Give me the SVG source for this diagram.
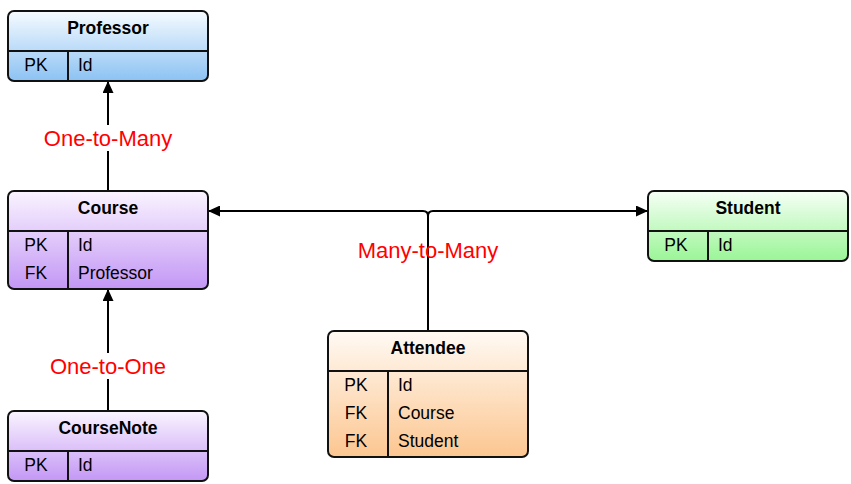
<svg xmlns="http://www.w3.org/2000/svg" width="851" height="484" viewBox="0 0 851 484">
<defs>
<linearGradient id="gBlue" x1="0" y1="0" x2="0" y2="1"><stop offset="0" stop-color="#f6fbff"/><stop offset="1" stop-color="#8cc2f3"/></linearGradient>
<linearGradient id="gPurple" x1="0" y1="0" x2="0" y2="1"><stop offset="0" stop-color="#faf4ff"/><stop offset="1" stop-color="#c397f5"/></linearGradient>
<linearGradient id="gOrange" x1="0" y1="0" x2="0" y2="1"><stop offset="0" stop-color="#fffaf4"/><stop offset="1" stop-color="#fcc690"/></linearGradient>
<linearGradient id="gGreen" x1="0" y1="0" x2="0" y2="1"><stop offset="0" stop-color="#f6fff6"/><stop offset="1" stop-color="#9af596"/></linearGradient>
<marker id="arr" viewBox="0 0 12 11" refX="12" refY="5.5" markerWidth="12" markerHeight="11" markerUnits="userSpaceOnUse" orient="auto"><path d="M0,0 L12,5.5 L0,11 Z" fill="#000"/></marker>
<style>
.box{stroke:#111;stroke-width:2}
.ln{stroke:#111;stroke-width:2;fill:none}
.hd{font-family:"Liberation Sans",Arial,sans-serif;font-weight:bold;font-size:17.5px;text-anchor:middle;fill:#000}
.tx{font-family:"Liberation Sans",Arial,sans-serif;font-size:17.5px;fill:#000}
.k{text-anchor:middle}
.lbl{font-family:"Liberation Sans",Arial,sans-serif;font-size:22px;fill:#ff0000;text-anchor:middle}
.cn{stroke:#000;stroke-width:2;fill:none}
</style>
</defs>
<g id="connectors">
<path class="cn" d="M108,191 L108,81" marker-end="url(#arr)"/>
<path class="cn" d="M108,411 L108,289" marker-end="url(#arr)"/>
<path class="cn" d="M428,331 L428,216 Q428,211 423,211 L208,211" marker-end="url(#arr)"/>
<path class="cn" d="M428,331 L428,216 Q428,211 433,211 L648,211" marker-end="url(#arr)"/>
<rect x="45" y="125" width="126" height="26" fill="#fff"/>
<text class="lbl" x="108" y="146">One-to-Many</text>
<rect x="50" y="353" width="116" height="26" fill="#fff"/>
<text class="lbl" x="108" y="374">One-to-One</text>
<text class="lbl" x="428" y="258">Many-to-Many</text>
</g>
<g id="professor">
<rect class="box" x="8" y="11" width="200" height="70" rx="6" fill="url(#gBlue)"/>
<path class="ln" d="M8,51 H208 M68,51 V81"/>
<text class="hd" x="108" y="34">Professor</text>
<text class="tx k" x="36" y="71">PK</text><text class="tx" x="78" y="71">Id</text>
</g>
<g id="course">
<rect class="box" x="8" y="191" width="200" height="98" rx="6" fill="url(#gPurple)"/>
<path class="ln" d="M8,231 H208 M68,231 V289"/>
<text class="hd" x="108" y="214">Course</text>
<text class="tx k" x="36" y="251">PK</text><text class="tx" x="78" y="251">Id</text>
<text class="tx k" x="36" y="279">FK</text><text class="tx" x="78" y="279">Professor</text>
</g>
<g id="student">
<rect class="box" x="648" y="191" width="200" height="70" rx="6" fill="url(#gGreen)"/>
<path class="ln" d="M648,231 H848 M708,231 V261"/>
<text class="hd" x="748" y="214">Student</text>
<text class="tx k" x="676" y="251">PK</text><text class="tx" x="718" y="251">Id</text>
</g>
<g id="attendee">
<rect class="box" x="328" y="331" width="200" height="126" rx="6" fill="url(#gOrange)"/>
<path class="ln" d="M328,371 H528 M388,371 V457"/>
<text class="hd" x="428" y="354">Attendee</text>
<text class="tx k" x="356" y="391">PK</text><text class="tx" x="398" y="391">Id</text>
<text class="tx k" x="356" y="419">FK</text><text class="tx" x="398" y="419">Course</text>
<text class="tx k" x="356" y="447">FK</text><text class="tx" x="398" y="447">Student</text>
</g>
<g id="coursenote">
<rect class="box" x="8" y="411" width="200" height="70" rx="6" fill="url(#gPurple)"/>
<path class="ln" d="M8,451 H208 M68,451 V481"/>
<text class="hd" x="108" y="434">CourseNote</text>
<text class="tx k" x="36" y="471">PK</text><text class="tx" x="78" y="471">Id</text>
</g>
</svg>
